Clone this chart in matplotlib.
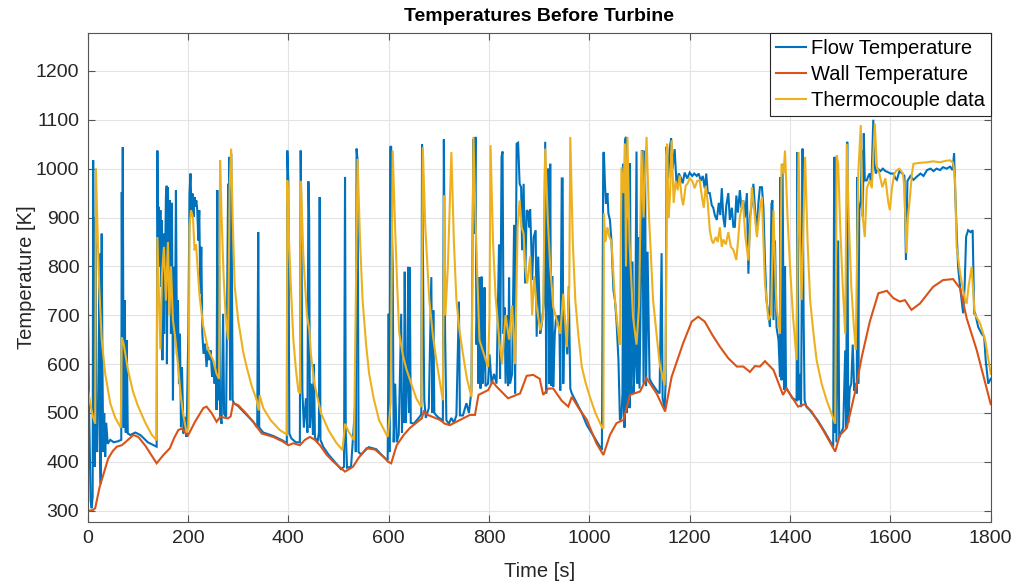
import numpy as np
import matplotlib
matplotlib.use("Agg")
import matplotlib.pyplot as plt

plt.rcParams['font.family'] = ['Liberation Sans', 'DejaVu Sans']

# (time [s], temperature [K]) samples for each series
wall_temp = [
    (0, 300), (10, 301), (15, 305), (24, 349), (41, 407), (50, 422), (58, 431), (68, 434), (75, 440),
    (91, 455), (101, 451), (115, 433), (137.5, 397), (151, 414), (164, 428), (172, 448), (180.6, 465),
    (187, 468), (200.5, 455), (214, 482), (230.5, 510), (237, 513), (247, 500), (257, 482), (264, 492),
    (280, 489), (285, 493), (290, 520), (300, 516), (315, 500), (330, 482), (347, 458), (370, 451),
    (390, 441), (400, 434), (410, 438), (423, 434), (433, 445), (443, 451), (453, 445), (463, 434),
    (476, 415), (490, 400), (513, 380), (529, 390), (540, 408), (556, 428), (573, 425), (590, 410),
    (599, 400), (605, 397), (616, 434), (630, 455), (642, 469), (666, 489), (670, 503), (678, 496),
    (702, 486), (712, 478), (722, 475), (735, 482), (762, 496), (772, 496), (779, 537), (798.5, 547),
    (807, 564), (815, 554), (838, 530), (855, 537), (862, 540), (875, 576), (888, 578), (901, 570),
    (908, 537), (918, 550), (928, 550), (945, 525), (958, 513), (965, 533), (980, 508), (995, 486),
    (1014, 438), (1028, 414), (1041, 455), (1054, 479), (1068, 486), (1081, 537), (1101, 544),
    (1114, 571), (1134, 540), (1151, 503), (1164, 574), (1187, 643), (1204, 687), (1217, 697),
    (1230, 687), (1245, 660), (1260, 636), (1277, 612), (1294, 595), (1307, 595), (1320, 584),
    (1330, 596), (1340, 595), (1350, 606), (1367, 588), (1386, 537), (1393, 550), (1416, 513),
    (1429, 518), (1443, 503), (1466, 465), (1490, 421), (1499.5, 455), (1513, 469), (1529, 540),
    (1543, 615), (1559, 687), (1576, 745), (1593, 750), (1606, 735), (1619, 728), (1629, 731),
    (1642, 711), (1659, 724), (1685, 758), (1705, 772), (1725, 774), (1739, 755), (1752, 694),
    (1772, 629), (1800, 518),
]

thermocouple = [
    (0, 555), (5, 520), (10, 495), (15, 478), (16.5, 1000), (19, 900), (23, 760), (28, 650), (35, 580),
    (45, 520), (55, 490), (66, 470), (68, 655), (72, 640), (80, 590), (90, 545), (100, 515), (115, 480),
    (128, 455), (137.5, 444), (139, 860), (142, 745), (145, 630), (148, 780), (152, 840), (156, 730),
    (160, 850), (163, 700), (166, 800), (170, 690), (175, 650), (180, 600), (185, 540), (190, 500),
    (197, 460), (201, 470), (203, 880), (206, 915), (210, 900), (213, 833), (216, 845), (219, 800),
    (223, 740), (230, 680), (240, 630), (250, 608), (257, 580), (262, 570), (264, 1017), (267, 900),
    (271, 780), (275, 700), (280, 650), (283, 960), (286, 1041), (289, 900), (293, 760), (300, 690),
    (310, 625), (317, 594), (327, 555), (337, 526), (341, 505), (343, 536), (350, 510), (365, 485),
    (383, 465), (397, 456), (398, 976), (401, 860), (405, 760), (410, 650), (415, 590), (420, 545),
    (423, 540), (425, 975), (430, 820), (437, 700), (442, 669), (445, 620), (452, 560), (465, 500),
    (480, 465), (495, 440), (508, 424), (513, 478), (520, 462), (531, 444), (538, 1020), (543, 850),
    (548, 731), (555, 640), (561, 581), (570, 530), (581, 485), (598, 451), (604, 520), (608, 1037),
    (611, 940), (613, 874), (617, 760), (621, 663), (628, 620), (635, 591), (645, 560), (655, 530),
    (665, 512), (668, 1044), (673, 880), (681, 731), (688, 660), (695, 608), (708, 526), (711, 945),
    (713, 700), (718, 800), (725, 1034), (730, 850), (735, 731), (741, 670), (748, 621), (756, 570),
    (765, 533), (767, 800), (769, 1065), (773, 900), (776, 800), (781, 649), (790, 620), (798, 594),
    (801, 700), (803, 1048), (808, 850), (813, 740), (821, 642), (826, 600), (833, 700), (840, 650),
    (846, 720), (852, 600), (857, 880), (861, 935), (865, 880), (869, 867), (872, 800), (876, 765),
    (882, 820), (886, 700), (890, 780), (895, 717), (902, 669), (908, 700), (912, 1041), (917, 900),
    (922, 799), (928, 717), (935, 690), (942, 662), (948, 744), (955, 635), (960, 760), (962, 1065),
    (967, 850), (972, 731), (978, 660), (985, 594), (993, 560), (1001, 533), (1012, 500), (1025, 471),
    (1028, 468), (1029, 908), (1032, 850), (1036, 880), (1040, 860), (1044, 852), (1051, 731),
    (1058, 662), (1061, 640), (1064, 1003), (1068, 950), (1071, 1051), (1073, 800), (1076, 1065),
    (1080, 850), (1087, 697), (1094, 640), (1099, 720), (1104, 1037), (1108, 900), (1114, 1065),
    (1119, 900), (1127, 731), (1134, 660), (1140, 601), (1150, 557), (1152, 600), (1155, 1051),
    (1158, 900), (1161, 950), (1164, 1058), (1168, 930), (1172, 975), (1176, 956), (1180, 986),
    (1184, 940), (1187, 925), (1192, 965), (1196, 970), (1200, 980), (1205, 975), (1210, 960),
    (1215, 975), (1220, 976), (1224, 945), (1228, 920), (1232, 965), (1236, 930), (1240, 874),
    (1244, 853), (1247, 847), (1252, 860), (1256, 850), (1260, 880), (1264, 840), (1267, 855),
    (1272, 845), (1277, 870), (1282, 840), (1287, 834), (1293, 813), (1297, 860), (1300, 901),
    (1306, 935), (1311, 860), (1317, 812), (1321, 900), (1324, 962), (1329, 910), (1334, 860),
    (1340, 920), (1344, 942), (1347, 850), (1350, 765), (1357, 690), (1362, 700), (1367, 915),
    (1370, 800), (1373, 717), (1380, 662), (1383, 1010), (1387, 990), (1390, 1037), (1395, 900),
    (1400, 799), (1406, 697), (1413, 608), (1417, 1034), (1420, 850), (1423, 731), (1427, 900),
    (1430, 1024), (1435, 850), (1440, 731), (1447, 660), (1453, 608), (1463, 560), (1473, 526),
    (1490, 478), (1493, 1027), (1496, 1010), (1500, 880), (1505, 760), (1510, 662), (1513, 1051),
    (1517, 900), (1522, 760), (1527, 680), (1531, 629), (1536, 990), (1541, 1089), (1545, 900),
    (1549, 860), (1553, 960), (1559, 976), (1563, 960), (1569, 1092), (1573, 1004), (1578, 990),
    (1584, 962), (1590, 980), (1596, 930), (1599, 915), (1603, 960), (1608, 990), (1612, 996),
    (1618, 1000), (1625, 990), (1628, 960), (1632, 827), (1635, 900), (1639, 942), (1643, 990),
    (1646, 1010), (1660, 1012), (1673, 1013), (1685, 1015), (1699, 1013), (1710, 1016), (1719, 1017),
    (1725, 1012), (1729, 976), (1732, 840), (1739, 786), (1745, 751), (1749, 731), (1752, 724),
    (1756, 760), (1762, 799), (1768, 703), (1779, 683), (1789, 649), (1800, 580),
]

flow_temp = [
    (0, 768), (3, 500), (6, 320), (8, 305), (10, 330), (11, 1017), (12.5, 700), (14, 390), (15.5, 900),
    (17, 450), (19, 420), (21, 526), (24, 826), (25, 400), (26, 355), (28, 867), (29.5, 600), (31, 420),
    (33, 500), (35, 410), (37, 480), (40, 437), (45, 445), (52, 440), (60, 442), (67, 445), (68, 952),
    (69, 700), (70, 1044), (71, 717), (72, 470), (74, 731), (76, 460), (78, 649), (80, 458), (85, 455),
    (95, 460), (105, 455), (120, 440), (137.5, 431), (139, 1037), (140.5, 853), (142, 922), (143.5, 799),
    (145, 915), (146.5, 758), (148, 894), (149, 608), (151, 867), (152.5, 662), (154, 785), (156, 942),
    (157.5, 965), (158, 600), (160, 962), (162, 770), (164, 935), (166, 662), (168, 930), (170, 526),
    (172, 799), (174, 662), (176, 956), (178, 620), (180, 731), (182, 560), (184, 662), (186, 471),
    (188, 594), (191, 458), (194, 492), (197, 451), (200.7, 662), (203, 949), (205, 990), (207, 915),
    (209, 949), (211, 901), (213, 942), (215, 922), (216.6, 935), (218.5, 915), (220.6, 853),
    (222.5, 915), (224.6, 744), (226.5, 840), (228.6, 662), (231, 621), (234, 642), (237, 594),
    (240, 635), (242, 608), (245, 628), (248, 574), (250, 608), (253, 560), (255, 594), (257, 506),
    (258.5, 956), (260, 526), (262, 800), (264, 492), (267, 478), (270, 703), (272, 498), (276, 492),
    (280, 969), (281, 700), (282, 1024), (284, 526), (286, 1031), (287.5, 800), (289, 526), (292, 520),
    (300, 514), (315, 498), (330, 482), (338, 470), (340, 870), (342, 470), (350, 460), (370, 453),
    (390, 443), (397, 437), (398, 1037), (400, 976), (402, 458), (406, 448), (415, 440), (423, 440),
    (424.6, 1037), (426, 900), (428, 546), (431, 470), (435, 530), (438, 460), (440, 974), (441.5, 900),
    (443, 470), (446, 560), (449, 455), (451, 600), (453, 450), (458, 440), (461, 460), (462.5, 942),
    (464, 445), (470, 430), (480, 415), (490, 403), (505, 385), (511, 390), (513, 983), (514.5, 458),
    (517, 388), (525, 390), (533, 512), (534.5, 420), (536, 1041), (538, 1017), (540, 420), (545, 415),
    (560, 430), (575, 426), (590, 410), (598, 403), (600, 703), (601.5, 420), (603, 1044), (605, 1046),
    (606.5, 874), (608, 799), (610, 440), (613, 560), (616, 440), (620, 456), (625, 703), (626.5, 460),
    (628, 540), (630, 480), (632, 789), (634, 480), (637, 560), (639, 799), (641, 500), (642, 798),
    (644, 480), (650, 478), (660, 490), (665, 497), (666.5, 1050), (669, 731), (671, 526), (674, 490),
    (680, 510), (685, 778), (687, 500), (689, 710), (691, 500), (695, 495), (700, 490), (708, 485),
    (710, 1060), (712.5, 662), (715, 485), (720, 478), (725, 490), (730, 480), (735, 495), (740, 728),
    (742, 495), (748, 495), (755, 520), (760, 500), (765, 546), (767, 833), (769, 1060), (771, 867),
    (773, 1065), (775, 640), (777, 730), (779, 560), (781, 778), (783, 550), (785, 779), (787, 560),
    (789, 600), (791, 757), (793, 555), (798, 560), (801, 620), (805, 560), (810, 580), (815, 560),
    (820, 845), (822, 570), (825, 1024), (827, 1035), (829, 662), (831, 716), (833, 560), (836, 700),
    (838, 555), (840, 777), (842, 560), (846, 580), (850, 885), (852, 540), (855, 1051), (858, 1053),
    (861, 969), (864, 962), (866, 833), (869, 969), (872, 765), (875, 915), (878, 912), (880, 880),
    (882, 917), (884, 850), (886, 772), (889, 860), (893, 874), (895, 656), (898, 820), (902, 662),
    (905, 680), (909, 724), (912, 1055), (914, 540), (916, 870), (918, 1000), (920, 560), (922, 1010),
    (924, 556), (926, 780), (928, 553), (931, 660), (934, 700), (937, 690), (940, 700), (942, 546),
    (945, 980), (946.8, 980), (948, 560), (950, 700), (953, 660), (956, 620), (959, 760), (962, 550),
    (965, 540), (975, 520), (985, 500), (995, 475), (1010, 450), (1025, 424), (1027.7, 1031),
    (1029, 1034), (1031, 970), (1033, 928), (1036, 950), (1038, 908), (1041, 895), (1044, 853),
    (1048, 751), (1051, 731), (1054, 690), (1058, 608), (1061, 485), (1064, 492), (1066, 540),
    (1068, 1010), (1070, 470), (1071, 1059), (1073, 1065), (1075, 500), (1078, 900), (1080, 510),
    (1081, 1011), (1083, 540), (1086, 810), (1088, 540), (1091, 600), (1094, 1035), (1096, 560),
    (1098, 860), (1100, 550), (1103, 790), (1105.5, 1038), (1108, 560), (1111, 1037), (1113, 555),
    (1116, 830), (1120, 570), (1125, 560), (1135, 545), (1140, 540), (1144, 827), (1146, 530),
    (1150, 510), (1152, 560), (1154, 1045), (1157, 980), (1160, 1040), (1163, 1062), (1166, 1000),
    (1170, 1040), (1174, 963), (1178, 990), (1181, 985), (1186, 970), (1190, 992), (1195, 980),
    (1200, 992), (1205, 985), (1209, 990), (1214, 985), (1218, 990), (1222, 975), (1226, 985),
    (1230, 960), (1233, 990), (1236, 950), (1240, 950), (1244, 925), (1247, 920), (1250, 905),
    (1254, 895), (1258, 930), (1261, 905), (1264, 960), (1267, 900), (1270, 880), (1273, 925),
    (1277, 950), (1280, 895), (1284, 920), (1287, 881), (1290, 881), (1293, 945), (1296, 910),
    (1300, 956), (1303, 920), (1307, 935), (1310, 900), (1314, 950), (1317, 785), (1320, 900),
    (1324, 930), (1327, 969), (1330, 920), (1334, 870), (1337, 930), (1340, 962), (1344, 962),
    (1347, 920), (1350, 812), (1353, 731), (1357, 703), (1360, 676), (1363, 928), (1365, 935),
    (1367, 690), (1370, 853), (1373, 676), (1377, 650), (1380, 574), (1381, 983), (1383, 567),
    (1385, 1010), (1388, 547), (1390, 800), (1392, 553), (1396, 545), (1405, 530), (1413, 526),
    (1415, 1034), (1417, 526), (1420, 580), (1422, 512), (1425, 1041), (1427, 700), (1429, 526),
    (1433, 512), (1440, 505), (1455, 485), (1470, 460), (1486, 431), (1488, 1024), (1489.5, 460),
    (1491, 1024), (1492.5, 440), (1496, 853), (1498, 450), (1502, 460), (1506, 470), (1510, 628),
    (1512, 470), (1514, 1055), (1516, 480), (1519, 550), (1522, 560), (1525, 640), (1528, 545),
    (1531, 560), (1533, 540), (1534, 983), (1536, 560), (1538, 915), (1541, 935), (1543, 1037),
    (1545, 902), (1547, 1072), (1549, 976), (1553, 976), (1556, 985), (1559, 990), (1562, 965),
    (1566, 1100), (1568, 1011), (1571, 990), (1575, 1000), (1580, 995), (1585, 1000), (1590, 995),
    (1595, 993), (1600, 990), (1606, 990), (1610, 980), (1613, 977), (1618, 995), (1624, 990),
    (1628, 985), (1631, 813), (1634, 975), (1640, 985), (1646, 977), (1652, 983), (1660, 990),
    (1666, 985), (1673, 997), (1680, 1000), (1686, 995), (1692, 1000), (1699, 997), (1705, 1003),
    (1712, 1000), (1719, 1004), (1724, 997), (1727, 1031), (1729, 960), (1732, 874), (1735, 799),
    (1739, 758), (1742, 730), (1745, 704), (1748, 760), (1751, 861), (1755, 874), (1760, 870),
    (1764, 874), (1767, 702), (1769, 704), (1775, 676), (1782, 662), (1787, 656), (1790, 608),
    (1795, 560), (1800, 570),
]

series_labels = ['Flow Temperature', 'Wall Temperature', 'Thermocouple data']
series_colors = ['#0072BD', '#D95319', '#EDB120']
x_ticks = list(range(0, 1801, 200))
y_ticks = list(range(300, 1201, 100))

fig = plt.figure(figsize=(10.18, 5.82), dpi=100)
ax = fig.add_axes([0.0861, 0.1036, 0.8871, 0.8392])

for data, label, color in zip([flow_temp, wall_temp, thermocouple], series_labels, series_colors):
    t, v = np.array(data, dtype=float).T
    ax.plot(t, v, color=color, lw=1.5, label=label, solid_joinstyle='miter')

ax.set_xlim(0, 1800)
ax.set_ylim(277.5, 1277)
ax.set_xticks(x_ticks)
ax.set_yticks(y_ticks)

axis_gray = '#262626'
ax.tick_params(direction='in', length=5, width=0.8, colors='#555555', labelcolor=axis_gray,
               labelsize=14, top=True, right=True, pad=6)
for s in ax.spines.values():
    s.set_color('#555555')
    s.set_linewidth(0.8)
ax.grid(True, color='#e3e3e3', lw=0.8)
ax.set_axisbelow(True)

ax.set_title('Temperatures Before Turbine', fontsize=14, fontweight='bold', color='black', pad=9)
ax.set_xlabel('Time [s]', fontsize=14.5, color=axis_gray, labelpad=11)
ax.set_ylabel('Temperature [K]', fontsize=14.5, color=axis_gray, labelpad=0)

leg = ax.legend(loc='upper right', fontsize=14.5, frameon=True, fancybox=False, framealpha=1,
                edgecolor='#262626', borderaxespad=0, borderpad=0.3, labelspacing=0.35,
                handlelength=1.45, handletextpad=0.25)
leg.get_frame().set_linewidth(0.8)

fig.savefig('out.png', dpi=100)
